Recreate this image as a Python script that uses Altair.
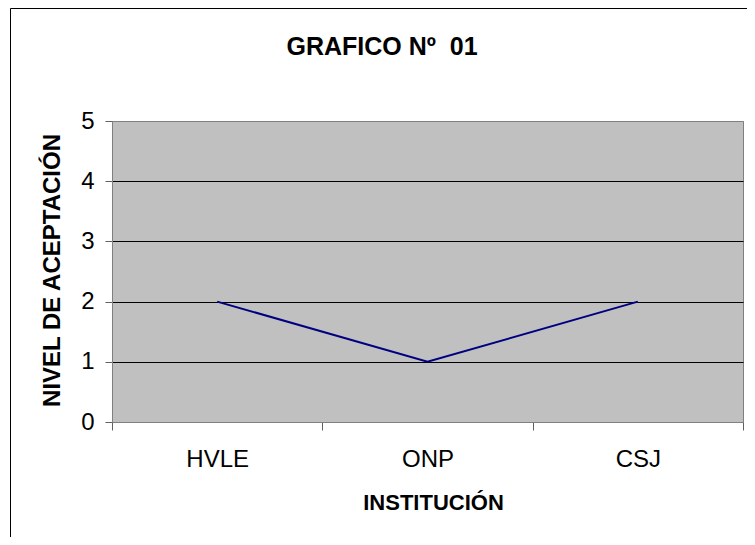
import altair as alt
import pandas as pd

categories = ["HVLE", "ONP", "CSJ"]
values = [2, 1, 2]
chart_title = "GRAFICO\u00a0Nº\u00a0\u00a001"

df = pd.DataFrame({"inst": categories, "nivel": values})

FONT = "Liberation Sans"

x_enc = alt.X(
    "inst:N",
    sort=categories,
    bandPosition=0.5,
    scale=alt.Scale(type="band", paddingInner=0, paddingOuter=0),
    axis=alt.Axis(
        title="INSTITUCIÓN",
        labelAngle=0,
        tickBand="extent",
        tickSize=8,
        labelPadding=17,
        labelFontSize=24,
        labelFont=FONT,
        labelColor="black",
        titleFont=FONT,
        titleFontSize=22,
        titleFontWeight="bold",
        titleColor="black",
        titleX=321,
        titleY=80,
        titleBaseline="middle",
        domainColor="#808080",
        tickColor="#606060",
        grid=False,
    ),
)

y_enc = alt.Y(
    "nivel:Q",
    scale=alt.Scale(domain=[0, 5], nice=False),
    axis=alt.Axis(
        title="NIVEL DE ACEPTACIÓN",
        values=[0, 1, 2, 3, 4, 5],
        tickSize=7,
        labelPadding=11,
        labelFontSize=24,
        labelFont=FONT,
        labelColor="black",
        titleFont=FONT,
        titleFontSize=24,
        titleFontWeight="bold",
        titleColor="black",
        titleAngle=270,
        titleX=-60,
        titleY=149,
        titleBaseline="middle",
        domainColor="#808080",
        tickColor="#606060",
        grid=True,
        gridColor=alt.condition(
            "datum.value == 0 || datum.value == 5",
            alt.value("#808080"),
            alt.value("black"),
        ),
        gridWidth=1,
    ),
)

line = alt.Chart(df).mark_line(color="#000080", strokeWidth=2).encode(x=x_enc, y=y_enc)

border = alt.Chart(alt.Data(values=[{}])).mark_rect(
    fill=None, fillOpacity=0, stroke="black", strokeWidth=1
).encode(
    x=alt.value(-101.5),
    x2=alt.value(639.5),
    y=alt.value(-112.5),
    y2=alt.value(440),
)

title_mark = alt.Chart(alt.Data(values=[{"t": chart_title}])).mark_text(
    font=FONT, fontSize=25, fontWeight="bold", color="black",
    align="center", baseline="middle",
).encode(
    text="t:N",
    x=alt.value(270),
    y=alt.value(-74),
)

chart = (
    alt.layer(line, border, title_mark)
    .properties(
        width=631,
        height=301,
        autosize=alt.AutoSizeParams(type="none"),
        padding={"left": 104, "top": 113, "right": 4, "bottom": 115},
        background="white",
    )
    .configure_view(fill="#C0C0C0", stroke="#808080", strokeWidth=1)
)

chart.save("out.html", embed_options={"renderer": "svg", "actions": False})
